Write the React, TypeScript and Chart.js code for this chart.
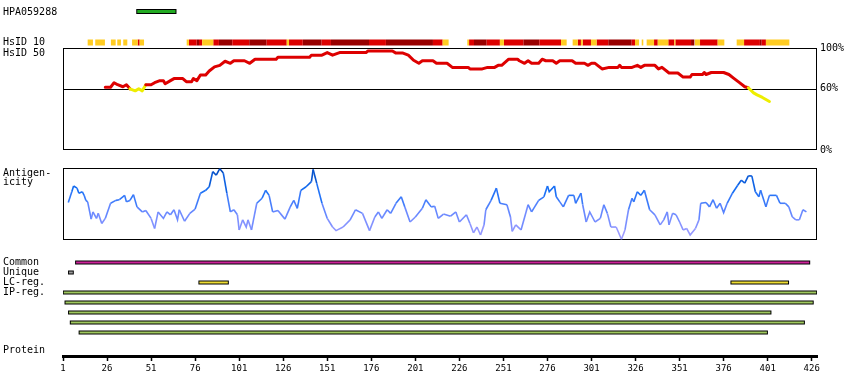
import React, { useEffect, useRef } from 'react';
import { Chart, registerables } from 'chart.js';

Chart.register(...registerables);

// ---------- data ----------
const PROTEIN_MIN = 1;
const PROTEIN_MAX = 429;
const tickResidues = [1, 26, 51, 76, 101, 126, 151, 176, 201, 226, 251, 276, 301, 326, 351, 376, 401, 426];

const antigenIds = ['HPA059288'];
const antigenRanges: [number, number][] = [[44, 64]];

// HsID 10 identity strip: [start, end, level]  Y = low, R = mid, D = high
const hsid10Segments: [number, number, string][] = [
  [15, 18, 'Y'], [19.3, 24.8, 'Y'], [28.2, 30.9, 'Y'], [31.8, 33.9, 'Y'], [35.2, 37.5, 'Y'],
  [40.2, 43.4, 'Y'], [43.4, 44.5, 'R'], [44.5, 47, 'Y'],
  [71.2, 72.5, 'Y'], [72.5, 76.9, 'R'], [76.9, 78.2, 'D'], [78.2, 80, 'R'], [80, 86.3, 'Y'],
  [86.3, 89.5, 'R'], [89.5, 97.1, 'D'], [97.1, 106.7, 'R'], [106.7, 116.6, 'D'], [116.6, 128, 'R'],
  [128, 129.3, 'Y'], [129.3, 137.1, 'R'], [137.1, 147.8, 'D'], [147.8, 153.1, 'R'], [153.1, 174.7, 'D'],
  [174.7, 184.3, 'R'], [184.3, 211, 'D'], [211, 216.5, 'R'], [216.5, 219.9, 'Y'],
  [230.5, 231.5, 'Y'], [231.5, 234.3, 'R'], [234.3, 241.5, 'D'], [241.5, 249, 'R'], [249, 251.3, 'Y'],
  [251.3, 262.3, 'R'], [262.3, 271.4, 'D'], [271.4, 283.7, 'R'], [283.7, 286.9, 'Y'],
  [290.3, 293.2, 'Y'], [293.2, 295, 'R'], [295, 296, 'Y'], [296, 300.7, 'R'], [300.7, 303.9, 'Y'],
  [303.9, 310.5, 'R'], [310.5, 323.8, 'D'], [323.8, 325.7, 'R'], [325.7, 328, 'Y'],
  [329.5, 330.4, 'Y'], [332.3, 336.5, 'Y'], [336.5, 338.6, 'R'], [338.6, 344.6, 'Y'], [344.6, 348, 'R'],
  [348, 348.6, 'Y'], [348.6, 357.5, 'R'], [357.5, 359.4, 'D'], [359.7, 362.6, 'Y'], [362.6, 372.6, 'R'],
  [372.6, 376.4, 'Y'], [383.4, 387.6, 'Y'], [387.6, 396.6, 'R'], [396.6, 397.6, 'D'], [397.6, 400, 'R'],
  [400, 413.3, 'Y'],
];

// HsID 50 identity (%)
const identityRes = [25, 28, 30, 32, 35, 37, 39, 42, 44, 46, 48, 51, 53, 56, 58, 59, 62, 64, 69, 71, 74, 75, 77, 79, 82, 84, 87, 90, 93, 96, 98, 104, 107, 110, 122, 123, 141, 142, 148, 151, 154, 158, 173, 174, 188, 190, 194, 197, 200, 203, 205, 211, 213, 219, 222, 231, 232, 239, 242, 246, 248, 250, 254, 259, 260, 263, 265, 267, 271, 273, 275, 279, 281, 283, 290, 292, 297, 299, 301, 303, 307, 311, 316, 317, 318, 324, 327, 329, 331, 337, 339, 341, 345, 350, 353, 357, 358, 364, 365, 366, 369, 376, 379, 382, 385, 388, 390, 393, 395, 398, 402];
const identityPct = [61.5, 61.5, 66, 64, 62, 64, 60, 58, 60, 58, 64, 64, 66, 68, 68, 65, 68, 70, 70, 67, 67, 70, 68, 73.5, 73.5, 77.5, 81.5, 83, 87, 85, 87.5, 87.5, 85, 89, 89, 91, 91, 93, 93, 95.5, 93, 95.5, 95.5, 97, 97, 95, 95, 93, 88, 85, 87.5, 87.5, 85, 85, 81, 81, 79.5, 79.5, 81, 81, 83, 83, 89, 89, 87.5, 85, 87.5, 85, 85, 89, 87.5, 87.5, 85, 87.5, 87.5, 85, 85, 83, 85, 85, 79.5, 81, 81, 83, 81, 81, 83, 81, 83, 83, 79.5, 81, 75.5, 75.5, 71.5, 71.5, 74, 74, 76, 74, 76, 76, 74, 70, 66, 62, 61, 56, 54, 51.5, 47.5];

// Antigenicity (relative scale)
const antigenicityRes = [4, 6, 7, 9, 10, 12, 13, 14, 15, 17, 18, 20, 21, 23, 25, 28, 31, 33, 36, 37, 39, 41, 43, 46, 48, 51, 53, 55, 58, 60, 62, 64, 66, 67, 70, 73, 76, 79, 82, 84, 86, 88, 90, 92, 94, 96, 98, 100, 101, 103, 105, 106, 108, 111, 114, 116, 118, 120, 123, 127, 130, 132, 134, 136, 139, 142, 143, 145, 148, 151, 154, 156, 160, 164, 167, 171, 175, 178, 180, 182, 185, 187, 190, 193, 195, 198, 201, 205, 207, 210, 212, 214, 217, 221, 224, 226, 230, 232, 234, 236, 238, 240, 241, 244, 247, 249, 253, 255, 256, 258, 261, 265, 267, 271, 274, 276, 277, 280, 281, 283, 285, 288, 291, 292, 295, 296, 298, 300, 303, 306, 308, 310, 312, 315, 318, 320, 322, 324, 325, 327, 329, 331, 334, 337, 340, 342, 344, 345, 347, 349, 351, 353, 355, 357, 360, 362, 363, 366, 368, 370, 372, 374, 376, 378, 381, 384, 386, 388, 390, 392, 394, 396, 397, 400, 402, 406, 408, 411, 413, 415, 417, 419, 421, 423];
const antigenicityVal = [52, 67, 75, 72, 65, 67, 62, 55, 53, 29, 39, 30, 37, 23, 30, 51, 55, 56, 62, 53, 55, 63, 46, 39, 41, 30, 16, 39, 30, 39, 35, 42, 28, 42, 26, 37, 43, 65, 69, 74, 95, 90, 99, 93, 65, 39, 42, 35, 14, 28, 18, 28, 14, 51, 58, 69, 62, 39, 41, 29, 46, 55, 44, 69, 74, 81, 98, 79, 51, 30, 18, 13, 18, 28, 42, 37, 13, 32, 39, 30, 42, 37, 51, 60, 46, 25, 32, 44, 56, 46, 47, 30, 36, 33, 39, 25, 35, 23, 10, 18, 7, 21, 42, 55, 72, 51, 49, 32, 12, 21, 14, 49, 39, 55, 60, 75, 67, 75, 60, 53, 46, 62, 62, 51, 65, 49, 25, 39, 25, 30, 49, 37, 18, 18, 1, 14, 42, 58, 53, 67, 62, 69, 42, 35, 21, 28, 39, 21, 37, 35, 25, 14, 16, 7, 16, 28, 51, 52, 46, 56, 44, 51, 38, 51, 65, 76, 83, 79, 89, 89, 67, 60, 69, 46, 62, 62, 51, 51, 46, 32, 28, 28, 42, 39];

// Tracks
const trackLabels = ['Common', 'Unique', 'LC-reg.', 'IP-reg.'];
const commonRegions: [number, number][] = [[9, 424]];
const uniqueRegions: [number, number][] = [[5, 6]];
const lcRegions: [number, number][] = [[79, 94], [381, 412]];
const ipRegions: [number, number][] = [[2, 428], [3, 426], [5, 402], [6, 421], [11, 400]];

// ---------- styles ----------
const FONT = '"DejaVu Sans Mono", monospace';
const levelColors: Record<string, string> = { Y: '#ffcc22', R: '#dd0000', D: '#990000' };

function antColor(v: number) {
  const stops: [number, number[]][] = [[0, [170, 160, 255]], [40, [100, 135, 255]], [70, [20, 110, 245]], [100, [0, 70, 185]]];
  let i = 0;
  while (i < stops.length - 2 && v > stops[i + 1][0]) i++;
  const [a, ca] = stops[i];
  const [b, cb] = stops[i + 1];
  const t = Math.max(0, Math.min(1, (v - a) / (b - a)));
  const c = ca.map((x, k) => Math.round(x + (cb[k] - x) * t));
  return `rgb(${c[0]},${c[1]},${c[2]})`;
}

function regionPoints(regions: [number, number][], rows: number[]) {
  const pts: any[] = [];
  regions.forEach(([s, e], i) => {
    pts.push({ x: s, y: rows[i] + 0.5 }, { x: e, y: rows[i] + 0.5 }, { x: e, y: null });
  });
  return pts;
}

function barPair(regions: [number, number][], rows: number[], color: string, axis: string, w: number) {
  const data = regionPoints(regions, rows);
  const base = { xAxisID: 'x', yAxisID: axis, pointRadius: 0, borderCapStyle: 'square', spanGaps: false, data };
  return [
    { ...base, label: 'fill', borderColor: color, borderWidth: w - 2, order: 1 },
    { ...base, label: 'outline', borderColor: '#000', borderWidth: w, order: 2 },
  ];
}

const framePlugin = {
  id: 'frames',
  beforeDatasetsDraw(chart: any) {
    const { ctx, chartArea, scales } = chart;
    ctx.save();
    ctx.strokeStyle = '#000';
    ctx.lineWidth = 1;
    const l = Math.round(chartArea.left) + 0.5;
    const r = Math.round(chartArea.right) - 0.5;
    for (const id of ['yId', 'yAnt']) {
      const s = scales[id];
      const t = Math.round(s.top) + 0.5;
      const b = Math.round(s.bottom) - 0.5;
      ctx.strokeRect(l, t, r - l, b - t);
    }
    const y60 = Math.round(scales.yId.getPixelForValue(60)) + 0.5;
    ctx.beginPath();
    ctx.moveTo(l, y60);
    ctx.lineTo(r, y60);
    ctx.stroke();
    ctx.restore();
  },
  afterDraw(chart: any) {
    const { ctx, scales } = chart;
    ctx.save();
    ctx.fillStyle = '#000';
    ctx.font = `10px ${FONT}`;
    ctx.textAlign = 'left';
    ctx.textBaseline = 'middle';
    const lx = 3;
    ctx.fillText(antigenIds[0], lx, scales.yHpa.getPixelForValue(0.5) + 1);
    ctx.fillText('HsID 10', lx, scales.yHs.getPixelForValue(0.5));
    ctx.fillText('HsID 50', lx, scales.yId.top + 5);
    ctx.fillText('Antigen-', lx, scales.yAnt.top + 5);
    ctx.fillText('icity', lx, scales.yAnt.top + 14);
    const trk = scales.yTrk;
    ctx.fillText(trackLabels[0], lx, trk.getPixelForValue(0.5));
    ctx.fillText(trackLabels[1], lx, trk.getPixelForValue(1.5));
    ctx.fillText(trackLabels[2], lx, trk.getPixelForValue(2.5));
    ctx.fillText(trackLabels[3], lx, trk.getPixelForValue(3.5));
    ctx.fillText('Protein', lx, scales.x.top - 6);
    ctx.restore();
  },
};

export default function App() {
  const ref = useRef<HTMLCanvasElement | null>(null);

  useEffect(() => {
    if (!ref.current) return;

    const hsDatasets = ['Y', 'R', 'D'].map((lvl) => {
      const segs = hsid10Segments.filter((s) => s[2] === lvl);
      const data: any[] = [];
      segs.forEach(([s, e]) => data.push({ x: s, y: 0.5 }, { x: e, y: 0.5 }, { x: e, y: null }));
      return {
        label: 'HsID10-' + lvl, xAxisID: 'x', yAxisID: 'yHs', data, borderColor: levelColors[lvl],
        borderWidth: 6, borderCapStyle: 'butt', pointRadius: 0, spanGaps: false, order: 3,
      };
    });

    const identityData = identityRes.map((r, i) => ({ x: r, y: identityPct[i] }));
    const antData = antigenicityRes.map((r, i) => ({ x: r, y: antigenicityVal[i] }));

    const datasets: any[] = [
      ...barPair(antigenRanges, [0], '#22aa22', 'yHpa', 5),
      ...hsDatasets,
      {
        label: 'HsID 50', xAxisID: 'x', yAxisID: 'yId', data: identityData, borderWidth: 3,
        pointRadius: 0, tension: 0, borderCapStyle: 'round', borderJoinStyle: 'round', order: 3,
        borderColor: '#dd0000',
        segment: {
          borderColor: (c: any) => (Math.min(c.p0.parsed.y, c.p1.parsed.y) < 59.5 ? '#eeee00' : '#dd0000'),
        },
      },
      {
        label: 'Antigenicity', xAxisID: 'x', yAxisID: 'yAnt', data: antData, borderWidth: 1.6,
        pointRadius: 0, tension: 0, order: 3, borderColor: '#3377ee',
        segment: {
          borderColor: (c: any) => antColor((c.p0.parsed.y + c.p1.parsed.y) / 2),
        },
      },
      ...barPair(commonRegions, [0], '#cc2299', 'yTrk', 4),
      ...barPair(uniqueRegions, [1], '#999999', 'yTrk', 4),
      ...barPair(lcRegions, [2, 2], '#eedd33', 'yTrk', 4),
      ...barPair(ipRegions, [3, 4, 5, 6, 7], '#9fc85e', 'yTrk', 4),
    ];

    const noPad = (s: any) => { s.paddingTop = 0; s.paddingBottom = 0; };
    const hidden = (w: number, weight: number, extra: any = {}) => ({
      type: 'linear', position: 'right', stack: 'panels', stackWeight: w, weight, display: false,
      afterFit: noPad, ...extra,
    });

    const chart = new Chart(ref.current, {
      type: 'line',
      data: { datasets },
      options: {
        animation: false,
        responsive: false,
        devicePixelRatio: 1,
        layout: { padding: { left: 63, right: 0, top: 3, bottom: 0 } },
        plugins: { legend: { display: false }, tooltip: { enabled: false } },
        scales: {
          x: {
            type: 'linear', position: 'bottom', min: PROTEIN_MIN, max: PROTEIN_MAX,
            afterBuildTicks: (s: any) => { s.ticks = tickResidues.map((v) => ({ value: v })); },
            afterFit: (s: any) => { s.height = 34; s.paddingLeft = 0; s.paddingRight = 0; },
            border: { display: true, color: '#000', width: 3 },
            grid: { drawOnChartArea: false, drawTicks: true, tickLength: 5, tickColor: '#000', tickWidth: 1.5 },
            ticks: { autoSkip: false, maxRotation: 0, color: '#000', padding: 2, font: { family: FONT, size: 9 } },
          },
          yHpa: hidden(17, 1, { min: 0, max: 1 }),
          gapA: hidden(17, 2, { min: 0, max: 1 }),
          yHs: hidden(11, 3, { min: 0, max: 1 }),
          yId: {
            type: 'linear', position: 'right', stack: 'panels', stackWeight: 102, weight: 4,
            min: 0, max: 100,
            afterBuildTicks: (s: any) => { s.ticks = [{ value: 0 }, { value: 60 }, { value: 100 }]; },
            afterFit: (s: any) => { s.width = 33; s.paddingTop = 0; s.paddingBottom = 0; },
            border: { display: false },
            grid: { display: false, drawTicks: false },
            ticks: { color: '#000', padding: 3, font: { family: FONT, size: 10 }, callback: (v: any) => v + '%' },
          },
          gapB: hidden(18, 5, { min: 0, max: 1 }),
          yAnt: hidden(72, 6, { min: 0, max: 100 }),
          gapC: hidden(17.5, 7, { min: 0, max: 1 }),
          yTrk: hidden(80, 8, { min: 0, max: 8, reverse: true }),
          gapD: hidden(18.5, 9, { min: 0, max: 1 }),
        } as any,
      },
      plugins: [framePlugin],
    } as any);

    return () => chart.destroy();
  }, []);

  return (
    <div style={{ position: 'fixed', left: 0, top: 0, width: 850, height: 390, background: '#fff' }}>
      <canvas ref={ref} width={850} height={390} style={{ display: 'block' }} />
    </div>
  );
}
